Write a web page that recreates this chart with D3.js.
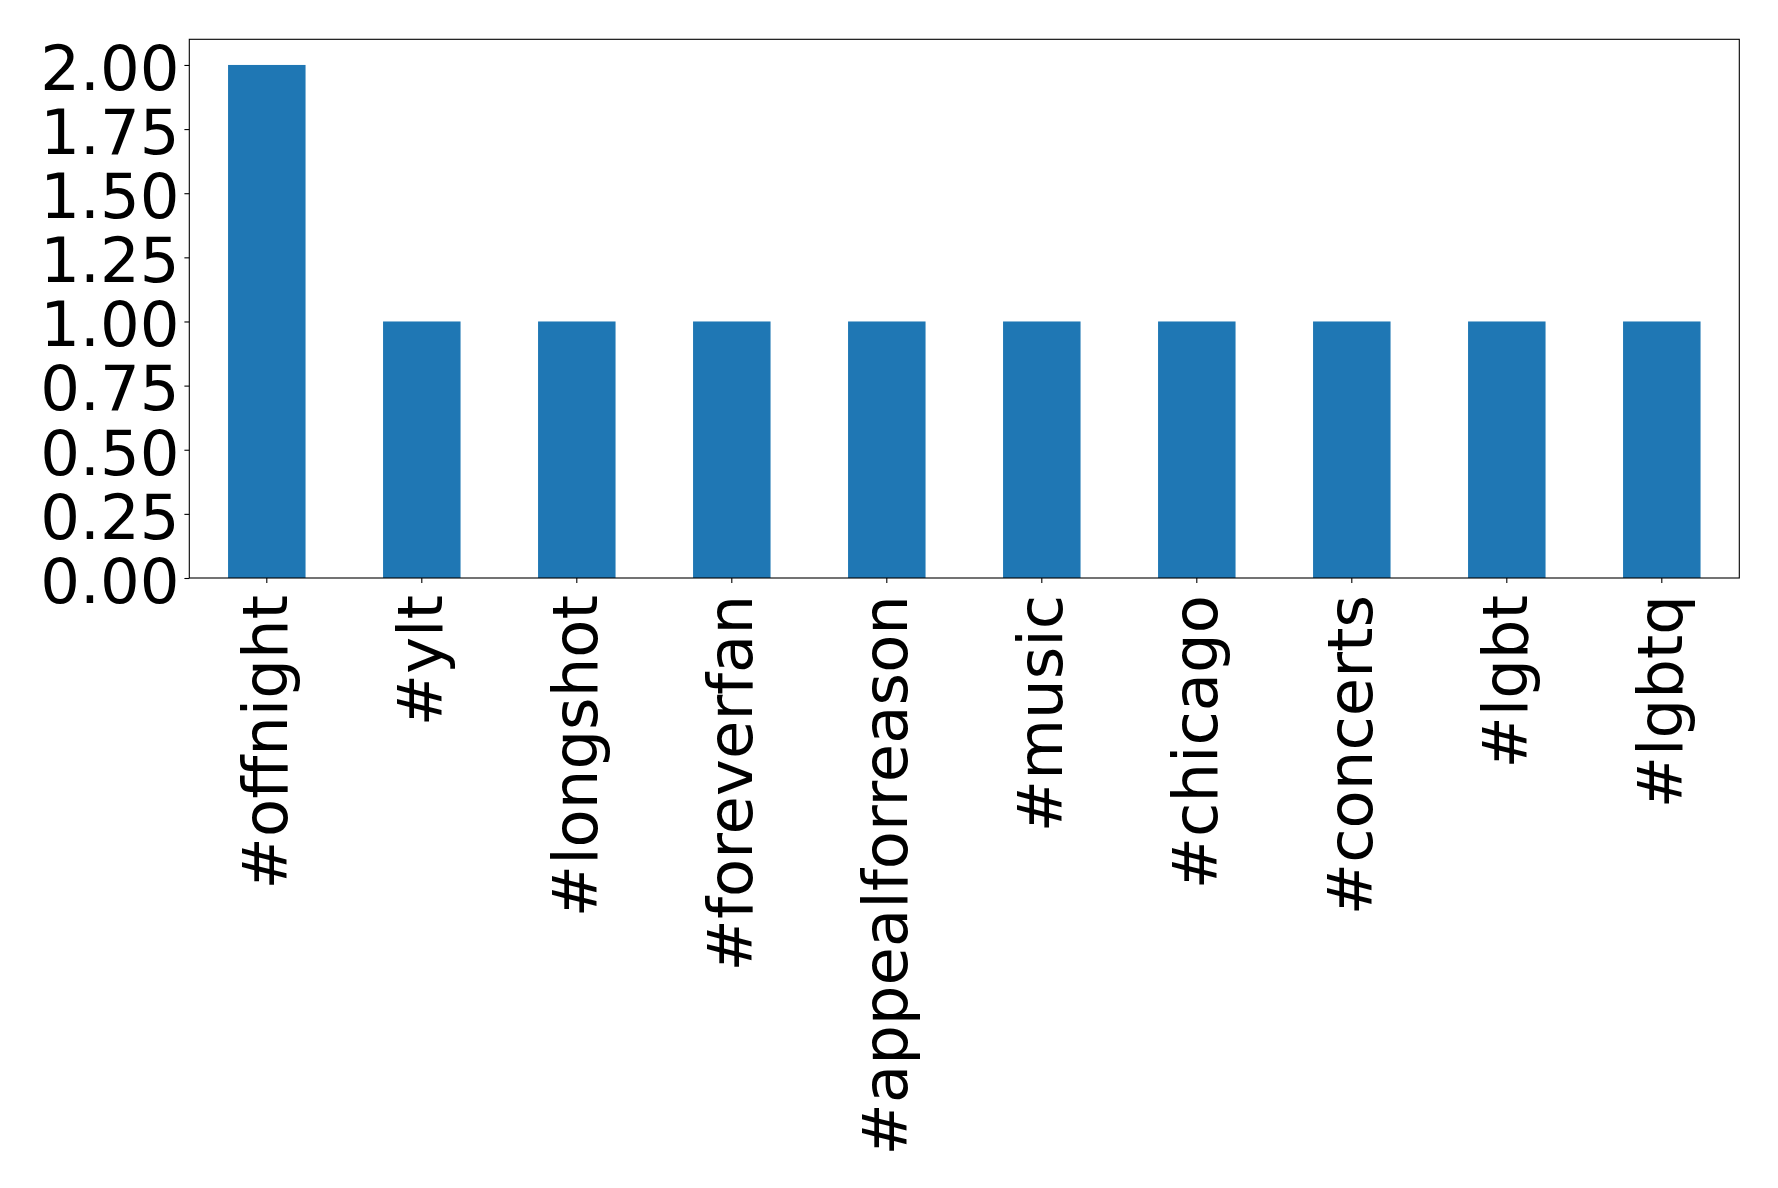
<!DOCTYPE html>
<html><head><meta charset="utf-8">
<script src="https://cdn.jsdelivr.net/npm/d3@7"></script>
<style>body{margin:0;background:#fff;} text{font-family:"DejaVu Sans";}</style>
</head><body><svg id="c" width="1778" height="1188"></svg>
<script>
const categories = ["#offnight","#ylt","#longshot","#foreverfan","#appealforreason","#music","#chicago","#concerts","#lgbt","#lgbtq"];
const values = [2,1,1,1,1,1,1,1,1,1];
const yTicks = [0,0.25,0.5,0.75,1.0,1.25,1.5,1.75,2.0];

const L=189.3, R=1739.3, T=39.3, B=578;
const svg=d3.select("#c");
const x=d3.scaleBand().domain(categories).range([L,R]).paddingInner(0.5).paddingOuter(0.25);
const y=d3.scaleLinear().domain([0,2.1]).range([B,T]);

svg.selectAll("rect.bar").data(values).enter().append("rect")
  .attr("x",(d,i)=>x(categories[i])).attr("width",x.bandwidth())
  .attr("y",d=>y(d)).attr("height",d=>B-y(d)).attr("fill","#1f77b4");

const ya=svg.append("g").attr("transform",`translate(${L},0)`)
  .call(d3.axisLeft(y).tickValues(yTicks).tickFormat(d3.format(".2f")).tickSize(4.9).tickPadding(4.9));
ya.select(".domain").remove();
ya.selectAll("text").attr("font-size","62.5px").attr("fill","#000").attr("font-family","DejaVu Sans").attr("dy","0.39em");
ya.selectAll("line").attr("stroke","#000").attr("stroke-width",1.1);

const xa=svg.append("g").attr("transform",`translate(0,${B})`)
  .call(d3.axisBottom(x).tickSize(4.9).tickPadding(0));
xa.select(".domain").remove();
xa.selectAll("line").attr("stroke","#000").attr("stroke-width",1.1);
xa.selectAll("text").attr("font-size","62.5px").attr("fill","#000").attr("font-family","DejaVu Sans")
  .attr("y",0).attr("dy",null).attr("text-anchor","end").attr("dominant-baseline","central")
  .attr("transform","translate(-1,17) rotate(-90)");

svg.append("rect").attr("x",L).attr("y",T).attr("width",R-L).attr("height",B-T)
  .attr("fill","none").attr("stroke","#000").attr("stroke-width",1.1);
</script></body></html>
